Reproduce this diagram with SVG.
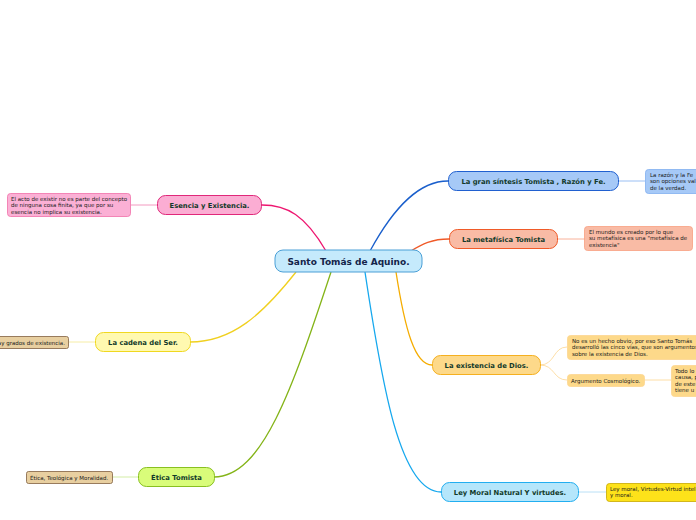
<svg xmlns="http://www.w3.org/2000/svg" width="696" height="520" viewBox="0 0 696 520">
<style>
text{font-family:"DejaVu Sans",Verdana,sans-serif;}
.main{font-size:6.8px;font-weight:bold;fill:#123a2a;text-anchor:middle;}
.center{font-size:9px;font-weight:bold;fill:#14244a;text-anchor:middle;}
.leaf{font-size:5.5px;fill:#1a1a1a;}
.conn{fill:none;stroke-width:1.3;}
.sub{fill:none;stroke-width:0.8;}
</style>
<rect width="696" height="520" fill="#fff"/>
<g id="connectors">
<path class="conn" stroke="#ee1670" d="M326,251 C305,215 287,205 262,205"/>
<path class="conn" stroke="#1a5fcc" d="M370,251 C395,205 420,181 448,181"/>
<path class="conn" stroke="#f05a28" d="M411,251 C422,244 432,239 449,239"/>
<path class="conn" stroke="#f5ac00" d="M396,272 C405,330 415,365 432,365"/>
<path class="conn" stroke="#16a8ee" d="M365,272 C382,385 400,492 441,492"/>
<path class="conn" stroke="#f0d020" d="M296,272 C262,315 232,342 190,342"/>
<path class="conn" stroke="#84b418" d="M331,272 C292,390 262,477 214,477"/>
<path class="sub" stroke="#f080b0" d="M131,205 L157,205"/>
<path class="sub" stroke="#80aef0" d="M619,181 L645,181"/>
<path class="sub" stroke="#f8a080" d="M558,239 L585,239"/>
<path class="sub" stroke="#fcd690" d="M540,365 C555,365 553,347 567,347"/>
<path class="sub" stroke="#fcd690" d="M540,365 C555,365 553,380 567,380"/>
<path class="sub" stroke="#fcd690" d="M644,380 L671,380"/>
<path class="sub" stroke="#a8d8f4" d="M579,492 L606,492"/>
<path class="sub" stroke="#f4e890" d="M69,342 L95,342"/>
<path class="sub" stroke="#c8e890" d="M112,477 L138,477"/>
</g>
<g id="center">
<rect x="275" y="250" width="147" height="22" rx="8" fill="#c5eafc" stroke="#4a9fd6" stroke-width="1"/>
<text class="center" x="348.5" y="264.5">Santo Tomás de Aquino.</text>
</g>
<g id="esencia">
<rect x="157.5" y="195.5" width="104" height="19" rx="8" fill="#fbadd3" stroke="#e0287a"/>
<text class="main" x="209.5" y="207.5" fill="#111">Esencia y Existencia.</text>
</g>
<g id="esencia-leaf">
<rect x="7.5" y="193.5" width="123" height="23" rx="3" fill="#fbb0d5" stroke="#f070a8" stroke-width="0.8"/>
<text class="leaf" x="11" y="201">El acto de existir no es parte del concepto</text>
<text class="leaf" x="11" y="207.3">de ninguna cosa finita, ya que por su</text>
<text class="leaf" x="11" y="213.6">esencia no implica su existencia.</text>
</g>
<g id="sintesis">
<rect x="448.5" y="171.5" width="170" height="19" rx="8" fill="#a6c9f7" stroke="#2060d0"/>
<text class="main" x="533.5" y="183.5">La gran síntesis Tomista , Razón y Fe.</text>
</g>
<g id="sintesis-leaf">
<rect x="645.5" y="169.5" width="60" height="24" rx="3" fill="#a6c9f7" stroke="#80aef0" stroke-width="0.8"/>
<text class="leaf" x="650" y="177">La razón y la Fe</text>
<text class="leaf" x="650" y="183.3">son opciones val</text>
<text class="leaf" x="650" y="189.6">de la verdad.</text>
</g>
<g id="metafisica">
<rect x="449.5" y="229.5" width="108" height="19" rx="8" fill="#f9bba5" stroke="#f05a28"/>
<text class="main" x="503.5" y="241.5">La metafísica Tomista</text>
</g>
<g id="metafisica-leaf">
<rect x="584.5" y="226.5" width="108" height="24" rx="3" fill="#f9bba5" stroke="#f8a080" stroke-width="0.8"/>
<text class="leaf" x="589" y="234">El mundo es creado por lo que</text>
<text class="leaf" x="589" y="240.3">su metafísica es una "metafísica de</text>
<text class="leaf" x="589" y="246.6">existencia"</text>
</g>
<g id="dios">
<rect x="432.5" y="355.5" width="108" height="19" rx="8" fill="#fdd98a" stroke="#f5b020"/>
<text class="main" x="486.5" y="367.5">La existencia de Dios.</text>
</g>
<g id="dios-leaf1">
<rect x="567.5" y="335.5" width="140" height="24" rx="3" fill="#fdd98a" stroke="#fcd690" stroke-width="0.8"/>
<text class="leaf" x="572" y="343">No es un hecho obvio, por eso Santo Tomás</text>
<text class="leaf" x="572" y="349.3">desarrolló las cinco vías, que son argumentos</text>
<text class="leaf" x="572" y="355.6">sobre la existencia de Dios.</text>
</g>
<g id="dios-leaf2">
<rect x="567.5" y="374.5" width="77" height="12" rx="3" fill="#fdd98a" stroke="#fcd690" stroke-width="0.8"/>
<text class="leaf" x="571" y="382.5">Argumento Cosmológico.</text>
</g>
<g id="dios-leaf3">
<rect x="671.5" y="365.5" width="40" height="31" rx="3" fill="#fdd98a" stroke="#fcd690" stroke-width="0.8"/>
<text class="leaf" x="675" y="373">Todo lo</text>
<text class="leaf" x="675" y="379.3">causa, p</text>
<text class="leaf" x="675" y="385.6">de este</text>
<text class="leaf" x="675" y="391.9">tiene u</text>
</g>
<g id="leymoral">
<rect x="441.5" y="482.5" width="137" height="19" rx="8" fill="#b5e6fb" stroke="#22aef0"/>
<text class="main" x="510" y="494.5">Ley Moral Natural Y virtudes.</text>
</g>
<g id="leymoral-leaf">
<rect x="606.5" y="483.5" width="100" height="18" rx="3" fill="#fde21a" stroke="#c8a800" stroke-width="0.8"/>
<text class="leaf" x="610" y="491">Ley moral, Virtudes-Virtud intel</text>
<text class="leaf" x="610" y="497.3">y moral.</text>
</g>
<g id="cadena">
<rect x="95.5" y="332.5" width="95" height="19" rx="8" fill="#fff9b0" stroke="#f0d820"/>
<text class="main" x="143" y="344.5">La cadena del Ser.</text>
</g>
<g id="cadena-leaf">
<rect x="-20.5" y="336.5" width="89" height="12" rx="2" fill="#e8cfa0" stroke="#806040" stroke-width="0.8"/>
<text class="leaf" x="65" y="344.5" text-anchor="end">ay grados de existencia.</text>
</g>
<g id="etica">
<rect x="138.5" y="467.5" width="76" height="19" rx="8" fill="#d9fc7a" stroke="#88c020"/>
<text class="main" x="176.5" y="479.5">Ética Tomista</text>
</g>
<g id="etica-leaf">
<rect x="26.5" y="471.5" width="86" height="12" rx="2" fill="#e8cfa0" stroke="#806040" stroke-width="0.8"/>
<text class="leaf" x="30" y="479.5">Ética, Teológica y Moralidad.</text>
</g>
</svg>
